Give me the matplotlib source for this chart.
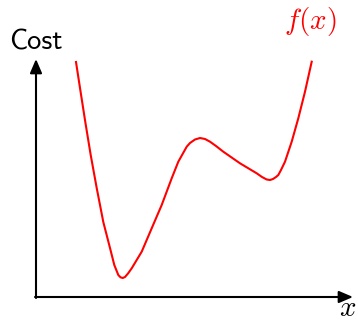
import matplotlib
matplotlib.use("Agg")
import matplotlib.pyplot as plt

plt.rcParams['mathtext.fontset'] = 'cm'

# curve (x along the axis, cost above the axis)
x = [40, 44, 49.3, 54.7, 60.7, 67.3, 74, 78.3, 82.3, 84.5, 86.7, 89, 92, 95.7,
     105.7, 115.7, 125.7, 135.7, 142.3, 150.7, 154, 159, 164, 169, 174, 180,
     187.3, 204, 220.7, 226, 230.7, 234, 237, 240, 242.3, 245, 249, 255.7,
     262.3, 269, 275.7]
cost = [235, 209, 175, 142, 109, 75, 49, 32, 22, 19.7, 19, 20, 23.5, 28.7,
        45.3, 68.7, 92, 118.7, 135.3, 150.3, 154, 157.5, 159, 158, 155.3, 151,
        145.3, 133.7, 123.7, 120, 117.5, 117, 118, 120, 122, 127, 135.3, 155.3,
        178.7, 205.3, 235.3]

fig = plt.figure(figsize=(3.58, 3.23), dpi=100)
ax = fig.add_axes([0, 0, 1, 1])
ax.set_xlim(-36, 322)
ax.set_ylim(-26, 297)
ax.axis('off')

arrow = dict(arrowstyle='-|>,head_length=0.7,head_width=0.3', color='black',
             lw=1.5, shrinkA=0, shrinkB=0, mutation_scale=12)
ax.annotate('', xy=(317, 0), xytext=(-1, 0), arrowprops=arrow)
ax.annotate('', xy=(0, 238), xytext=(0, -1), arrowprops=arrow)

ax.plot(x, cost, color='red', lw=1.5, solid_joinstyle='round')

ax.text(0, 247, 'Cost', family='cmss10', fontsize=20.5, ha='center', va='baseline')
ax.text(274, 276, r'$f(x)$', color='red', fontsize=21, ha='center', va='center')
ax.text(312, -19, r'$x$', fontsize=21, ha='center', va='baseline')

fig.savefig('out.png', dpi=100)
